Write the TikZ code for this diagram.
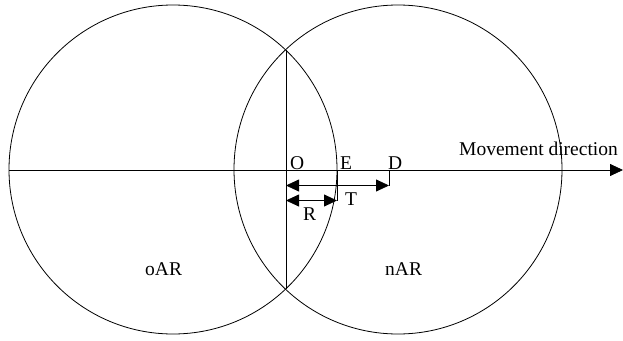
\documentclass[tikz,border=0pt]{standalone}
\usepackage{fontspec}
\setmainfont{Liberation Serif}
\usetikzlibrary{arrows.meta}

\begin{document}
\begin{tikzpicture}[x=1pt, y=-1pt,
        lbl/.style={inner sep=0pt, anchor=base west, font=\fontsize{19.5}{23}\selectfont},
        dimarrow/.style={{Triangle[length=13pt, width=12pt]}-{Triangle[length=13pt, width=12pt]}, thick}]
        \useasboundingbox (0,0) rectangle (623,340);

        % Define centres of the two areas
        \coordinate (Cold) at (173, 169.5);   % old area
        \coordinate (Cnew) at (398, 169.5);   % new area

        % Define points on the axis
        \coordinate (L) at (9, 170);          % Left end
        \coordinate (M) at (623, 170);        % Right end (arrow)
        \coordinate (O) at (286, 170);        % Origin
        \coordinate (E) at (337, 170);        % Edge of old area
        \coordinate (D) at (389, 170);        % Displacement

        % Define intersection points of the circles
        \coordinate (P1) at (286, 50.3);      % Top
        \coordinate (P2) at (286, 288.7);     % Bottom

        % Define ends of the measure arrows
        \coordinate (T0) at (286, 185.5);
        \coordinate (T1) at (389, 185.5);
        \coordinate (R0) at (286, 200.5);
        \coordinate (R1) at (337, 200.5);

        % Draw the two areas
        \draw[thick] (Cold) ellipse (164 and 164.5);
        \draw[thick] (Cnew) ellipse (164 and 164.5);

        % Draw axis and chord
        \draw[thick, -{Triangle[length=13pt, width=12pt]}] (L) -- (M);
        \draw[thick] (P1) -- (P2);

        % Draw measure arrows with ticks
        \draw[dimarrow] (T0) -- (T1);
        \draw[thick] (D) -- (T1);
        \draw[dimarrow] (R0) -- (R1);
        \draw[thick] (E) -- (R1);

        % Label points
        \node[lbl] (lO) at (290, 169) {O};
        \node[lbl] (lE) at (340, 169) {E};
        \node[lbl] (lD) at (388, 169) {D};
        \node[lbl] (lT) at (345, 205) {T};
        \node[lbl] (lR) at (303, 220) {R};

        % Label areas and direction
        \node[lbl] (lold) at (145, 275) {oAR};
        \node[lbl] (lnew) at (385, 275) {nAR};
        \node[lbl] (ldir) at (459, 155) {Movement direction};
    \end{tikzpicture}
\end{document}
